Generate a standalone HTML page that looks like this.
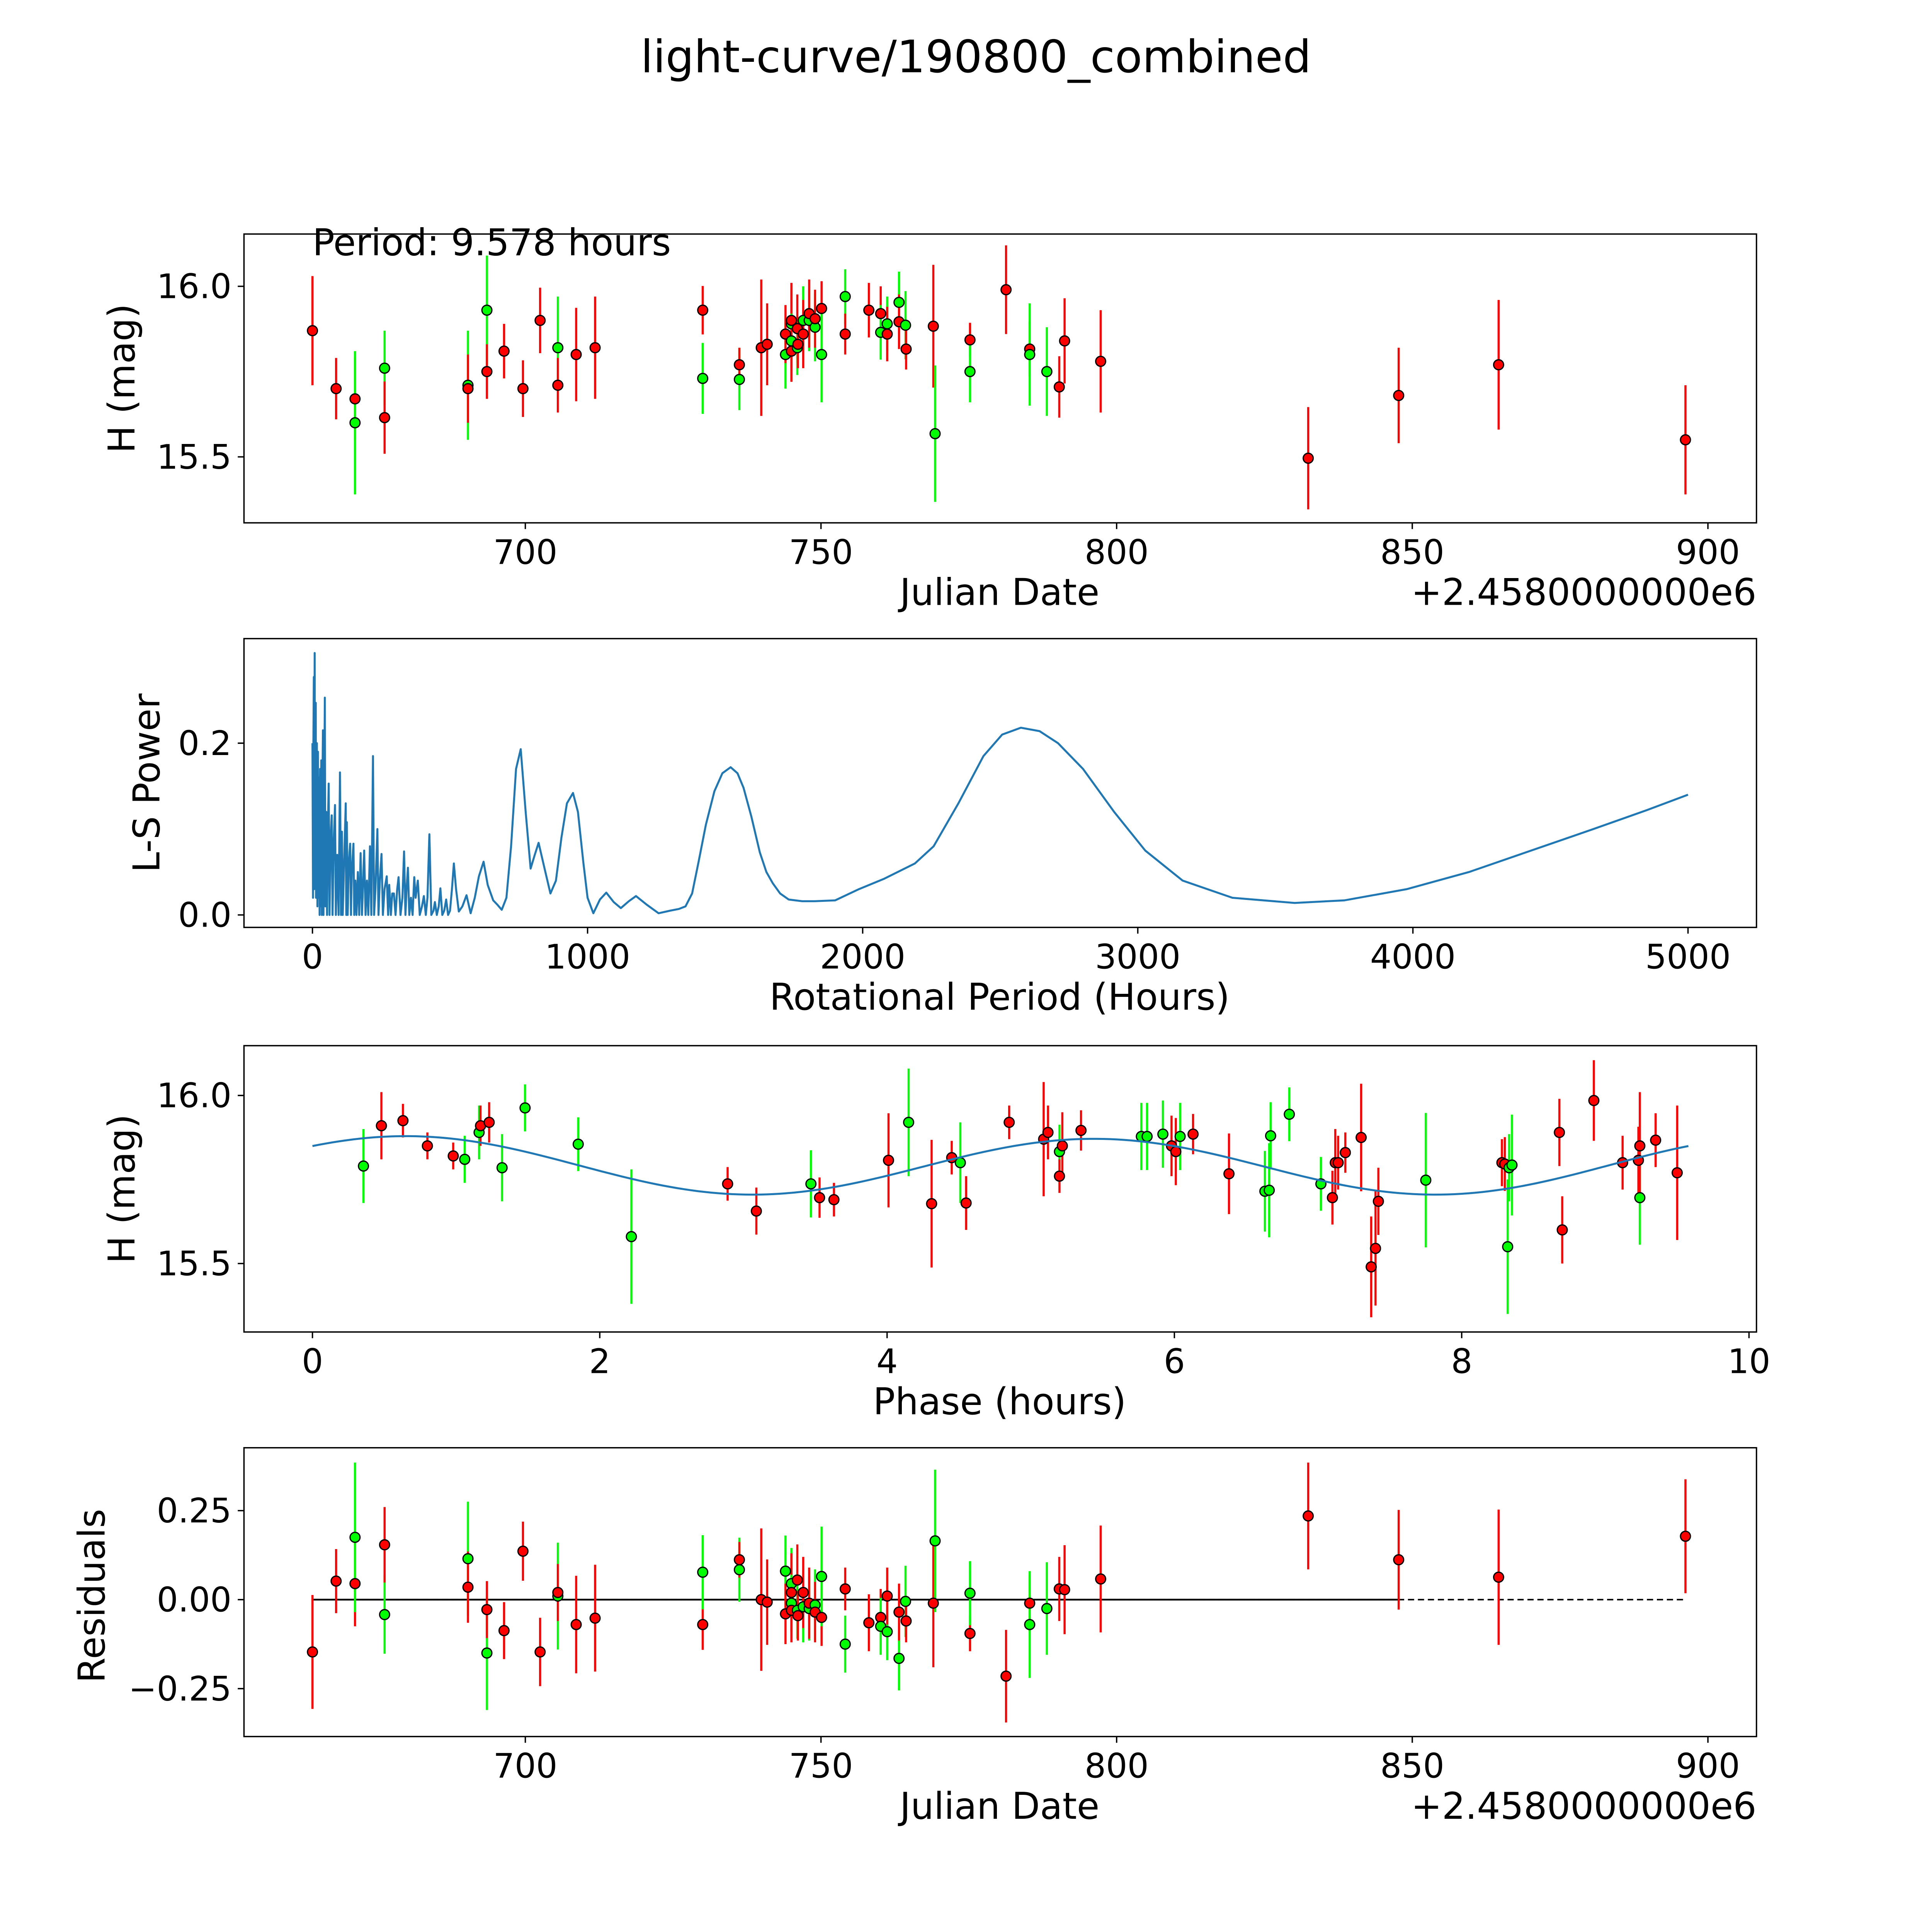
<!DOCTYPE html>
<html><head><meta charset="utf-8"><title>light-curve/190800_combined</title>
<style>html,body{margin:0;padding:0;background:#fff;width:100%;height:100%;overflow:hidden}svg{display:block;width:100vw;height:100vh}text{font-family:"DejaVu Sans","Liberation Sans",sans-serif;fill:#000}</style>
</head><body>
<svg id="fig" xmlns="http://www.w3.org/2000/svg" viewBox="0 0 1552 1552" preserveAspectRatio="none">
<rect x="0" y="0" width="1552" height="1552" fill="#fff"/>
<text x="784" y="58" font-size="36" text-anchor="middle">light-curve/190800_combined</text>
<g id="p1"></g>
<g id="p2"></g>
<g id="p3"></g>
<g id="p4"></g>
</svg>
<script>
// ---- Panel 1: light curve ----
const lcDates=[664.0,668.0,671.2,671.2,676.2,676.2,690.3,690.3,693.5,693.5,696.4,699.6,702.5,705.5,705.5,708.6,711.8,730.0,730.0,736.2,736.2,739.9,740.9,744.0,744.0,745.0,745.0,745.0,745.0,746.0,746.0,746.1,747.0,747.0,748.0,748.0,749.0,749.0,750.1,750.1,754.1,754.1,758.1,760.1,760.1,761.2,761.2,763.2,763.2,764.3,764.4,769.0,769.3,775.2,775.2,781.3,785.3,785.3,788.2,790.3,791.2,797.3,832.4,847.7,864.6,896.2];
const lcMags=[15.87,15.70,15.67,15.60,15.76,15.615,15.71,15.70,15.93,15.75,15.81,15.70,15.90,15.82,15.71,15.80,15.82,15.93,15.73,15.727,15.77,15.82,15.83,15.80,15.86,15.89,15.90,15.84,15.81,15.876,15.82,15.83,15.90,15.86,15.90,15.92,15.88,15.905,15.935,15.80,15.97,15.86,15.93,15.92,15.865,15.89,15.86,15.953,15.896,15.886,15.816,15.883,15.568,15.843,15.75,15.99,15.816,15.80,15.75,15.705,15.84,15.78,15.496,15.68,15.77,15.55];
const lcErrs=[0.16,0.09,0.12,0.21,0.11,0.106,0.16,0.1,0.16,0.08,0.08,0.083,0.096,0.15,0.08,0.137,0.15,0.071,0.104,0.09,0.05,0.2,0.12,0.1,0.085,0.1,0.11,0.08,0.09,0.1,0.08,0.07,0.1,0.1,0.09,0.1,0.1,0.085,0.08,0.14,0.08,0.06,0.08,0.08,0.08,0.08,0.08,0.09,0.08,0.1,0.06,0.18,0.2,0.05,0.09,0.13,0.08,0.15,0.13,0.09,0.125,0.15,0.15,0.14,0.19,0.16];
const lcColors=["r","r","r","g","g","r","g","r","g","r","r","r","r","g","r","r","r","r","g","g","r","r","r","g","r","g","r","g","r","r","g","r","g","r","g","r","g","r","r","g","g","r","r","r","g","g","r","g","r","g","r","r","g","r","g","r","r","g","g","r","r","r","r","r","r","r"];
const lcXTicks=[700,750,800,850,900];
const lcYTicks=[15.5,16.0];
const lcYTickLabels=["15.5","16.0"];

// ---- Panel 2: periodogram ----
const lsPeriods=[0,2,3,5,6,8,9,12,13,16,18,20,22,24,26,28,30,32,34,36,38,40,43,45,47,50,53,56,59,62,66,70,73,77,82,85,90,95,100,104,107,110,115,121,123,125,128,132,137,140,143,149,152,156,160,165,170,175,180,188,193,198,203,209,214,220,224,229,236,240,245,251,256,262,270,275,279,285,290,296,302,308,313,320,327,333,338,342,347,352,358,364,370,375,383,390,398,405,412,418,425,432,440,445,452,459,465,472,479,486,493,500,507,514,522,532,545,560,575,590,605,622,637,657,672,688,705,722,740,757,775,793,808,822,843,865,885,905,925,947,965,985,1000,1021,1045,1068,1095,1121,1150,1176,1215,1258,1300,1332,1356,1380,1403,1430,1461,1490,1520,1545,1567,1595,1626,1650,1673,1700,1731,1780,1825,1900,1986,2077,2190,2258,2348,2439,2507,2575,2643,2710,2801,2914,3027,3163,3344,3570,3751,3977,4204,4430,4656,4850,5000];
const lsPowers=[0.2,0.02,0.18,0.277,0.03,0.305,0.05,0.247,0.02,0.2,0.01,0.19,0.02,0.16,0.0,0.17,0.01,0.18,0.0,0.14,0.215,0.0,0.15,0.253,0.01,0.12,0.0,0.1,0.153,0.0,0.09,0.116,0.0,0.08,0.128,0.0,0.07,0.0,0.166,0.0,0.097,0.0,0.06,0.13,0.0,0.108,0.0,0.06,0.083,0.0,0.05,0.083,0.0,0.04,0.0,0.05,0.0,0.072,0.0,0.075,0.0,0.04,0.0,0.08,0.0,0.185,0.0,0.03,0.1,0.0,0.04,0.071,0.0,0.03,0.045,0.0,0.035,0.0,0.025,0.025,0.0,0.03,0.044,0.0,0.02,0.074,0.0,0.03,0.055,0.0,0.02,0.0,0.044,0.02,0.04,0.0,0.01,0.022,0.0,0.02,0.094,0.0,0.005,0.015,0.0,0.01,0.031,0.0,0.005,0.018,0.0,0.005,0.03,0.06,0.03,0.004,0.01,0.023,0.002,0.02,0.045,0.062,0.035,0.017,0.012,0.006,0.02,0.08,0.17,0.193,0.12,0.054,0.07,0.084,0.055,0.025,0.04,0.09,0.13,0.142,0.12,0.06,0.02,0.002,0.018,0.026,0.015,0.008,0.016,0.022,0.012,0.002,0.005,0.007,0.01,0.025,0.061,0.105,0.144,0.165,0.172,0.165,0.148,0.115,0.073,0.05,0.037,0.025,0.018,0.016,0.016,0.017,0.03,0.042,0.06,0.08,0.13,0.185,0.21,0.218,0.214,0.2,0.17,0.12,0.075,0.04,0.02,0.014,0.017,0.03,0.05,0.075,0.1,0.122,0.14];
const lsXTicks=[0,1000,2000,3000,4000,5000];
const lsYTicks=[0.0,0.2];
const lsYTickLabels=["0.0","0.2"];

// ---- Panel 3: phased ----
const phPhases=[0.355,0.48,0.63,0.80,0.98,1.06,1.16,1.17,1.23,1.32,1.48,1.85,2.22,2.89,3.09,3.47,3.53,3.63,4.01,4.15,4.31,4.45,4.51,4.55,4.85,5.09,5.12,5.20,5.20,5.22,5.35,5.77,5.81,5.92,5.98,6.01,6.04,6.13,6.38,6.63,6.66,6.67,6.80,7.02,7.10,7.12,7.14,7.19,7.30,7.37,7.40,7.42,7.75,8.28,8.30,8.32,8.33,8.35,8.68,8.70,8.92,9.12,9.23,9.24,9.24,9.35,9.50];
const phMags=[15.79,15.91,15.925,15.85,15.82,15.81,15.89,15.91,15.92,15.785,15.963,15.855,15.58,15.737,15.656,15.737,15.696,15.69,15.807,15.92,15.678,15.815,15.80,15.68,15.92,15.87,15.89,15.833,15.76,15.85,15.896,15.878,15.878,15.885,15.85,15.833,15.878,15.885,15.767,15.715,15.718,15.88,15.944,15.737,15.696,15.80,15.80,15.83,15.875,15.49,15.545,15.685,15.748,15.80,15.796,15.55,15.785,15.793,15.89,15.60,15.985,15.80,15.807,15.696,15.85,15.867,15.77];
const phErrs=[0.11,0.1,0.05,0.04,0.04,0.07,0.08,0.06,0.06,0.1,0.07,0.08,0.2,0.05,0.07,0.1,0.06,0.05,0.14,0.16,0.19,0.05,0.12,0.08,0.05,0.17,0.08,0.08,0.05,0.1,0.06,0.1,0.1,0.1,0.09,0.1,0.1,0.06,0.12,0.12,0.14,0.1,0.08,0.08,0.08,0.1,0.08,0.06,0.16,0.15,0.17,0.1,0.2,0.07,0.08,0.2,0.1,0.15,0.1,0.1,0.12,0.08,0.1,0.14,0.16,0.08,0.2];
const phColors=["g","r","r","r","r","g","g","r","r","g","g","g","g","r","r","g","r","r","r","g","r","r","g","r","r","r","r","g","r","r","r","g","g","g","r","r","g","r","r","g","g","g","g","g","r","r","r","r","r","r","r","r","g","r","r","g","g","g","r","r","r","r","r","g","r","r","r"];
const fitPeriod=9.578, fitMean=15.79, fitAmp=0.085, fitPeak=0.65, fitAmp1=0.004;
const phXTicks=[0,2,4,6,8,10];
const phYTicks=[15.5,16.0];
const phYTickLabels=["15.5","16.0"];

// ---- Panel 4: residuals ----
const resDates=lcDates;
const resValues=[-0.147,0.052,0.045,0.175,-0.042,0.154,0.115,0.035,-0.15,-0.028,-0.087,0.136,-0.147,0.01,0.02,-0.07,-0.052,-0.07,0.077,0.084,0.112,0.0,-0.007,0.08,-0.04,0.045,0.02,-0.01,-0.03,0.055,-0.03,-0.045,-0.02,0.02,-0.025,-0.01,-0.015,-0.035,-0.05,0.065,-0.125,0.03,-0.065,-0.05,-0.075,-0.09,0.01,-0.165,-0.035,-0.005,-0.06,-0.01,0.165,-0.095,0.018,-0.215,-0.01,-0.07,-0.025,0.03,0.028,0.058,0.235,0.112,0.063,0.178];
const resErrs=lcErrs;
const resColors=lcColors;
const resYTicks=[-0.25,0,0.25];
const resYTickLabels=["\u22120.25","0.00","0.25"];

const NS="http://www.w3.org/2000/svg";
const TICK_FS=27, LABEL_FS=29.5;
function mk(parent,tag,attrs){const e=document.createElementNS(NS,tag);for(const k in attrs)e.setAttribute(k,attrs[k]);parent.appendChild(e);return e;}
function lin(d0,d1,p0,p1){return v=>p0+(v-d0)*(p1-p0)/(d1-d0);}
const COL={r:"#ff0000",g:"#00ff00"};

function frame(g,L,T,R,B,name){
  const r=mk(g,"rect",{x:L,y:T,width:R-L,height:B-T,fill:"none",stroke:"#000","stroke-width":1.1});
  
  
}
function xticks(g,ticks,labels,sx,B,name){
  ticks.forEach((t,i)=>{
    const x=sx(t);
    const l=mk(g,"line",{x1:x,x2:x,y1:B,y2:B+5,stroke:"#000","stroke-width":1.1});
    
    
    const tx=mk(g,"text",{x:x,y:B+33,"font-size":TICK_FS,"text-anchor":"middle"});
    tx.textContent=labels[i];
    
    
  });
}
function yticks(g,ticks,labels,sy,L,name){
  ticks.forEach((t,i)=>{
    const y=sy(t);
    const l=mk(g,"line",{x1:L-5,x2:L,y1:y,y2:y,stroke:"#000","stroke-width":1.1});
    
    
    const tx=mk(g,"text",{x:L-10,y:y+9.5,"font-size":TICK_FS,"text-anchor":"end"});
    tx.textContent=labels[i];
    
    
  });
}
function label(g,txt,x,y,rot,name){
  const t=mk(g,"text",{x:x,y:y,"font-size":LABEL_FS,"text-anchor":"middle"});
  if(rot)t.setAttribute("transform","rotate(-90 "+x+" "+y+")");
  t.textContent=txt;
  
  
}
function points(g,xs,ys,errs,cols,sx,sy,name){
  xs.forEach((v,i)=>{
    const x=sx(v);
    const e=mk(g,"line",{x1:x,x2:x,y1:sy(ys[i]-errs[i]),y2:sy(ys[i]+errs[i]),stroke:COL[cols[i]],"stroke-width":1.7});
    
    
  });
  xs.forEach((v,i)=>{
    const c=mk(g,"circle",{cx:sx(v),cy:sy(ys[i]),r:4,fill:COL[cols[i]],stroke:"#000","stroke-width":1});
    
    
  });
}
function model(ph){
  const w=2*Math.PI/fitPeriod;
  return fitMean+fitAmp*Math.cos(2*w*(ph-fitPeak))+fitAmp1*Math.cos(w*(ph-fitPeak));
}

// Panel 1
(function(){
  const g=document.getElementById("p1");
  const L=196,T=188,R=1411,B=420;
  const sx=lin(700,900,422,1372), sy=lin(15.5,16.0,367,230);
  points(g,lcDates,lcMags,lcErrs,lcColors,sx,sy,"light-curve");
  frame(g,L,T,R,B,"light-curve");
  xticks(g,lcXTicks,lcXTicks.map(String),sx,B,"light-curve");
  yticks(g,lcYTicks,lcYTickLabels,sy,L,"light-curve");
  label(g,"Julian Date",803,486,false,"light-curve-x-axis-title");
  label(g,"H (mag)",108,304,true,"light-curve-y-axis-title");
  const o=mk(g,"text",{x:1411,y:486,"font-size":LABEL_FS,"text-anchor":"end"});o.textContent="+2.4580000000e6";
  
  
  const p=mk(g,"text",{x:251,y:205,"font-size":LABEL_FS});p.textContent="Period: 9.578 hours";
  
  
})();

// Panel 2
(function(){
  const g=document.getElementById("p2");
  const L=196,T=513,R=1411,B=745;
  const sx=lin(0,1000,251,472), sy=lin(0,0.1,735,666);
  const pts=lsPeriods.map((p,i)=>sx(p).toFixed(2)+","+sy(lsPowers[i]).toFixed(2)).join(" ");
  const pl=mk(g,"polyline",{points:pts,fill:"none",stroke:"#1f77b4","stroke-width":1.6,"stroke-linejoin":"round"});
  
  
  frame(g,L,T,R,B,"periodogram");
  xticks(g,lsXTicks,lsXTicks.map(String),sx,B,"periodogram");
  yticks(g,lsYTicks,lsYTickLabels,sy,L,"periodogram");
  label(g,"Rotational Period (Hours)",803,811,false,"periodogram-x-axis-title");
  label(g,"L-S Power",128,629,true,"periodogram-y-axis-title");
})();

// Panel 3
(function(){
  const g=document.getElementById("p3");
  const L=196,T=840,R=1411,B=1070;
  const sx=lin(0,10,251,1405), sy=lin(15.5,16.0,1015,880);
  points(g,phPhases,phMags,phErrs,phColors,sx,sy,"phase");
  let d="";
  for(let i=0;i<=200;i++){const ph=fitPeriod*i/200;d+=(i?"L":"M")+sx(ph).toFixed(2)+" "+sy(model(ph)).toFixed(2);}
  const c=mk(g,"path",{d:d,fill:"none",stroke:"#1f77b4","stroke-width":1.6});
  
  
  frame(g,L,T,R,B,"phase");
  xticks(g,phXTicks,phXTicks.map(String),sx,B,"phase");
  yticks(g,phYTicks,phYTickLabels,sy,L,"phase");
  label(g,"Phase (hours)",803,1136,false,"phase-x-axis-title");
  label(g,"H (mag)",108,955,true,"phase-y-axis-title");
})();

// Panel 4
(function(){
  const g=document.getElementById("p4");
  const L=196,T=1163,R=1411,B=1395;
  const sx=lin(700,900,422,1372), sy=lin(0,0.25,1285,1213.5);
  const x0=sx(resDates[0]), x1=sx(resDates[resDates.length-1]);
  const dl=mk(g,"line",{x1:x0,x2:x1,y1:sy(0),y2:sy(0),stroke:"#000","stroke-width":1.2,"stroke-dasharray":"5,3"});
  
  
  const sl=mk(g,"line",{x1:x0,x2:sx(847.7),y1:sy(0),y2:sy(0),stroke:"#000","stroke-width":1.4});
  
  
  points(g,resDates,resValues,resErrs,resColors,sx,sy,"residual");
  frame(g,L,T,R,B,"residuals");
  xticks(g,lcXTicks,lcXTicks.map(String),sx,B,"residuals");
  yticks(g,resYTicks,resYTickLabels,sy,L,"residuals");
  label(g,"Julian Date",803,1461,false,"residuals-x-axis-title");
  label(g,"Residuals",84,1282,true,"residuals-y-axis-title");
  const o=mk(g,"text",{x:1411,y:1461,"font-size":LABEL_FS,"text-anchor":"end"});o.textContent="+2.4580000000e6";
  
  
})();
</script>
</body></html>
